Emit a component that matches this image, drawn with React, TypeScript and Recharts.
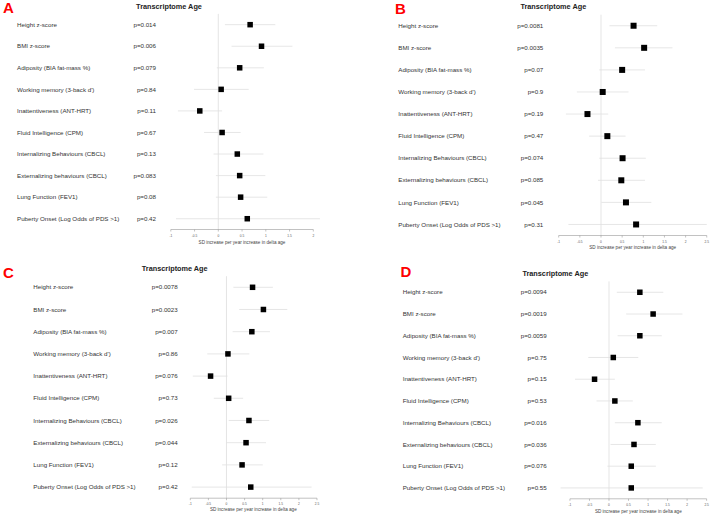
import React from "react";
import { ScatterChart, Scatter, XAxis, YAxis, ErrorBar, ReferenceLine } from "recharts";

const OUTCOMES = [
  "Height z-score",
  "BMI z-score",
  "Adiposity (BIA fat-mass %)",
  "Working memory (3-back d')",
  "Inattentiveness (ANT-HRT)",
  "Fluid Intelligence (CPM)",
  "Internalizing Behaviours (CBCL)",
  "Externalizing behaviours (CBCL)",
  "Lung Function (FEV1)",
  "Puberty Onset (Log Odds of PDS >1)",
];

const TICKS_A = [-1, -0.5, 0, 0.5, 1, 1.5, 2];
const TICKS_BCD = [-1, -0.5, 0, 0.5, 1, 1.5, 2, 2.5];

// panel A
const A_EST = [0.67, 0.91, 0.45, 0.06, -0.39, 0.08, 0.4, 0.45, 0.47, 0.61];
const A_LO = [0.14, 0.28, -0.03, -0.51, -0.85, -0.3, -0.1, -0.05, -0.05, -0.89];
const A_HI = [1.2, 1.56, 0.96, 0.64, 0.08, 0.47, 0.95, 0.99, 1.03, 2.14];
const A_P = ["p=0.014", "p=0.006", "p=0.079", "p=0.84", "p=0.11", "p=0.67", "p=0.13", "p=0.083", "p=0.08", "p=0.42"];

// panel B
const B_EST = [0.77, 1.02, 0.5, 0.04, -0.32, 0.15, 0.51, 0.48, 0.59, 0.83];
const B_LO = [0.2, 0.33, -0.04, -0.57, -0.83, -0.28, -0.04, -0.07, 0.01, -0.77];
const B_HI = [1.33, 1.69, 1.04, 0.65, 0.17, 0.58, 1.06, 1.04, 1.19, 2.5];
const B_P = ["p=0.0081", "p=0.0035", "p=0.07", "p=0.9", "p=0.19", "p=0.47", "p=0.074", "p=0.085", "p=0.045", "p=0.31"];

// panel C
const C_EST = [0.72, 1.02, 0.7, 0.04, -0.44, 0.06, 0.62, 0.54, 0.43, 0.67];
const C_LO = [0.19, 0.35, 0.17, -0.53, -0.93, -0.35, 0.06, 0.01, -0.12, -0.96];
const C_HI = [1.28, 1.68, 1.2, 0.63, 0.03, 0.46, 1.18, 1.09, 1.0, 2.35];
const C_P = ["p=0.0078", "p=0.0023", "p=0.007", "p=0.86", "p=0.076", "p=0.73", "p=0.026", "p=0.044", "p=0.12", "p=0.42"];

// panel D
const D_EST = [0.79, 1.13, 0.79, 0.11, -0.37, 0.15, 0.74, 0.64, 0.57, 0.57];
const D_LO = [0.2, 0.44, 0.22, -0.53, -0.87, -0.32, 0.15, 0.04, -0.04, -1.24];
const D_HI = [1.39, 1.88, 1.35, 0.75, 0.15, 0.61, 1.35, 1.2, 1.2, 2.4];
const D_P = ["p=0.0094", "p=0.0019", "p=0.0059", "p=0.75", "p=0.15", "p=0.53", "p=0.016", "p=0.036", "p=0.076", "p=0.55"];

const FONT = "'Liberation Sans', Arial, sans-serif";

type Layout = {
  left: number; top: number; width: number;
  zero: number; ppu: number; xMin: number; xMax: number;
  plotTop: number; plotBottom: number;
  nameX: number; pX: number; sq: number;
};

const LAYOUT_A: Layout = { left: 0, top: 0, width: 335, zero: 218.3, ppu: 47.5, xMin: -1, xMax: 2.25, plotTop: 13.9, plotBottom: 229.5, nameX: 17, pX: 156, sq: 5.5 };
const LAYOUT_B: Layout = { left: 360, top: 0, width: 353, zero: 601, ppu: 42.3, xMin: -1, xMax: 2.6, plotTop: 14.7, plotBottom: 235.5, nameX: 398.3, pX: 543.3, sq: 6 };
const LAYOUT_C: Layout = { left: 0, top: 258, width: 330, zero: 226.5, ppu: 36.2, xMin: -1, xMax: 2.6, plotTop: 276.2, plotBottom: 498.2, nameX: 33.3, pX: 177.7, sq: 5.5 };
const LAYOUT_D: Layout = { left: 360, top: 258, width: 353, zero: 609, ppu: 39.05, xMin: -1.3, xMax: 2.6, plotTop: 281.4, plotBottom: 498.8, nameX: 402.7, pX: 546.7, sq: 5.5 };

function Forest({ est, lo, hi, pvals, ticks, L }: {
  est: number[]; lo: number[]; hi: number[]; pvals: string[]; ticks: number[]; L: Layout;
}) {
  const data = est.map((v, i) => ({ row: i, est: v, err: [v - lo[i], hi[i] - v] }));
  const plotLeft = L.zero + L.xMin * L.ppu;
  const plotRight = L.zero + L.xMax * L.ppu;
  const xAxisH = 20;
  const height = L.plotBottom - L.top + xAxisH;

  const rowTick = (props: any) => {
    const { y, payload } = props;
    const i = payload.value;
    return (
      <g>
        <text x={L.nameX - L.left} y={y} dy="0.35em" fontSize={6.2} fill="#333" fontFamily={FONT}>
          {OUTCOMES[i]}
        </text>
        <text x={L.pX - L.left} y={y} dy="0.35em" fontSize={6.2} fill="#333" textAnchor="end" fontFamily={FONT}>
          {pvals[i]}
        </text>
      </g>
    );
  };

  const square = (props: any) => {
    const { cx, cy } = props;
    return <rect x={cx - L.sq / 2} y={cy - L.sq / 2} width={L.sq} height={L.sq} fill="#000" />;
  };

  return (
    <div style={{ position: "absolute", left: L.left, top: L.top }}>
      <ScatterChart
        width={L.width}
        height={height}
        margin={{ top: L.plotTop - L.top, right: L.left + L.width - plotRight, bottom: 0, left: 0 }}
      >
        <XAxis
          type="number"
          dataKey="est"
          domain={[L.xMin, L.xMax]}
          ticks={ticks}
          interval={0}
          axisLine={false}
          tickLine={{ stroke: "#999", strokeWidth: 0.6 }}
          tickSize={2}
          tickMargin={3}
          tick={{ fontSize: 3.2, fill: "#555", fontFamily: FONT }}
          height={xAxisH}
        />
        <YAxis
          type="number"
          dataKey="row"
          domain={[-0.5, 9.5]}
          ticks={[0, 1, 2, 3, 4, 5, 6, 7, 8, 9]}
          interval={0}
          reversed
          axisLine={false}
          tickLine={false}
          width={plotLeft - L.left}
          tick={rowTick}
        />
        <ReferenceLine x={0} stroke="#dedede" strokeWidth={0.8} />
        <ReferenceLine
          segment={[{ x: ticks[0], y: 9.5 }, { x: ticks[ticks.length - 1], y: 9.5 }]}
          stroke="#999"
          strokeWidth={0.6}
          ifOverflow="visible"
        />
        <Scatter data={data} shape={square} isAnimationActive={false}>
          <ErrorBar dataKey="err" direction="x" width={0} stroke="#e0e0e0" strokeWidth={0.8} />
        </Scatter>
      </ScatterChart>
    </div>
  );
}

export default function App() {
  const titleStyle = { fontSize: 7.3, fontWeight: 700, fill: "#222", fontFamily: FONT } as const;
  const letterStyle = { fontSize: 15, fontWeight: 700, fill: "#f00", fontFamily: FONT } as const;
  const axisStyle = { fontSize: 4.6, fill: "#444", fontFamily: FONT } as const;
  return (
    <div style={{ position: "absolute", left: 0, top: 0, width: 713, height: 516, background: "#fff", fontFamily: FONT, overflow: "hidden" }}>
      <Forest est={A_EST} lo={A_LO} hi={A_HI} pvals={A_P} ticks={TICKS_A} L={LAYOUT_A} />
      <Forest est={B_EST} lo={B_LO} hi={B_HI} pvals={B_P} ticks={TICKS_BCD} L={LAYOUT_B} />
      <Forest est={C_EST} lo={C_LO} hi={C_HI} pvals={C_P} ticks={TICKS_BCD} L={LAYOUT_C} />
      <Forest est={D_EST} lo={D_LO} hi={D_HI} pvals={D_P} ticks={TICKS_BCD} L={LAYOUT_D} />
      <svg width={713} height={516} style={{ position: "absolute", left: 0, top: 0, pointerEvents: "none" }}>
        <text x={3} y={13.3} style={letterStyle}>A</text>
        <text x={395} y={14} style={letterStyle}>B</text>
        <text x={3} y={277.5} style={letterStyle}>C</text>
        <text x={400.5} y={276.5} style={letterStyle}>D</text>

        <text x={169} y={8.5} textAnchor="middle" style={titleStyle}>Transcriptome Age</text>
        <text x={553.3} y={9.3} textAnchor="middle" style={titleStyle}>Transcriptome Age</text>
        <text x={174.7} y={270.6} textAnchor="middle" style={titleStyle}>Transcriptome Age</text>
        <text x={555.3} y={275.6} textAnchor="middle" style={titleStyle}>Transcriptome Age</text>

        <text x={242} y={243.8} textAnchor="middle" style={axisStyle}>SD increase per year increase in delta age</text>
        <text x={632.7} y={248.9} textAnchor="middle" style={axisStyle}>SD increase per year increase in delta age</text>
        <text x={253.3} y={510.9} textAnchor="middle" style={axisStyle}>SD increase per year increase in delta age</text>
        <text x={638.3} y={512.6} textAnchor="middle" style={axisStyle}>SD increase per year increase in delta age</text>
      </svg>
    </div>
  );
}
